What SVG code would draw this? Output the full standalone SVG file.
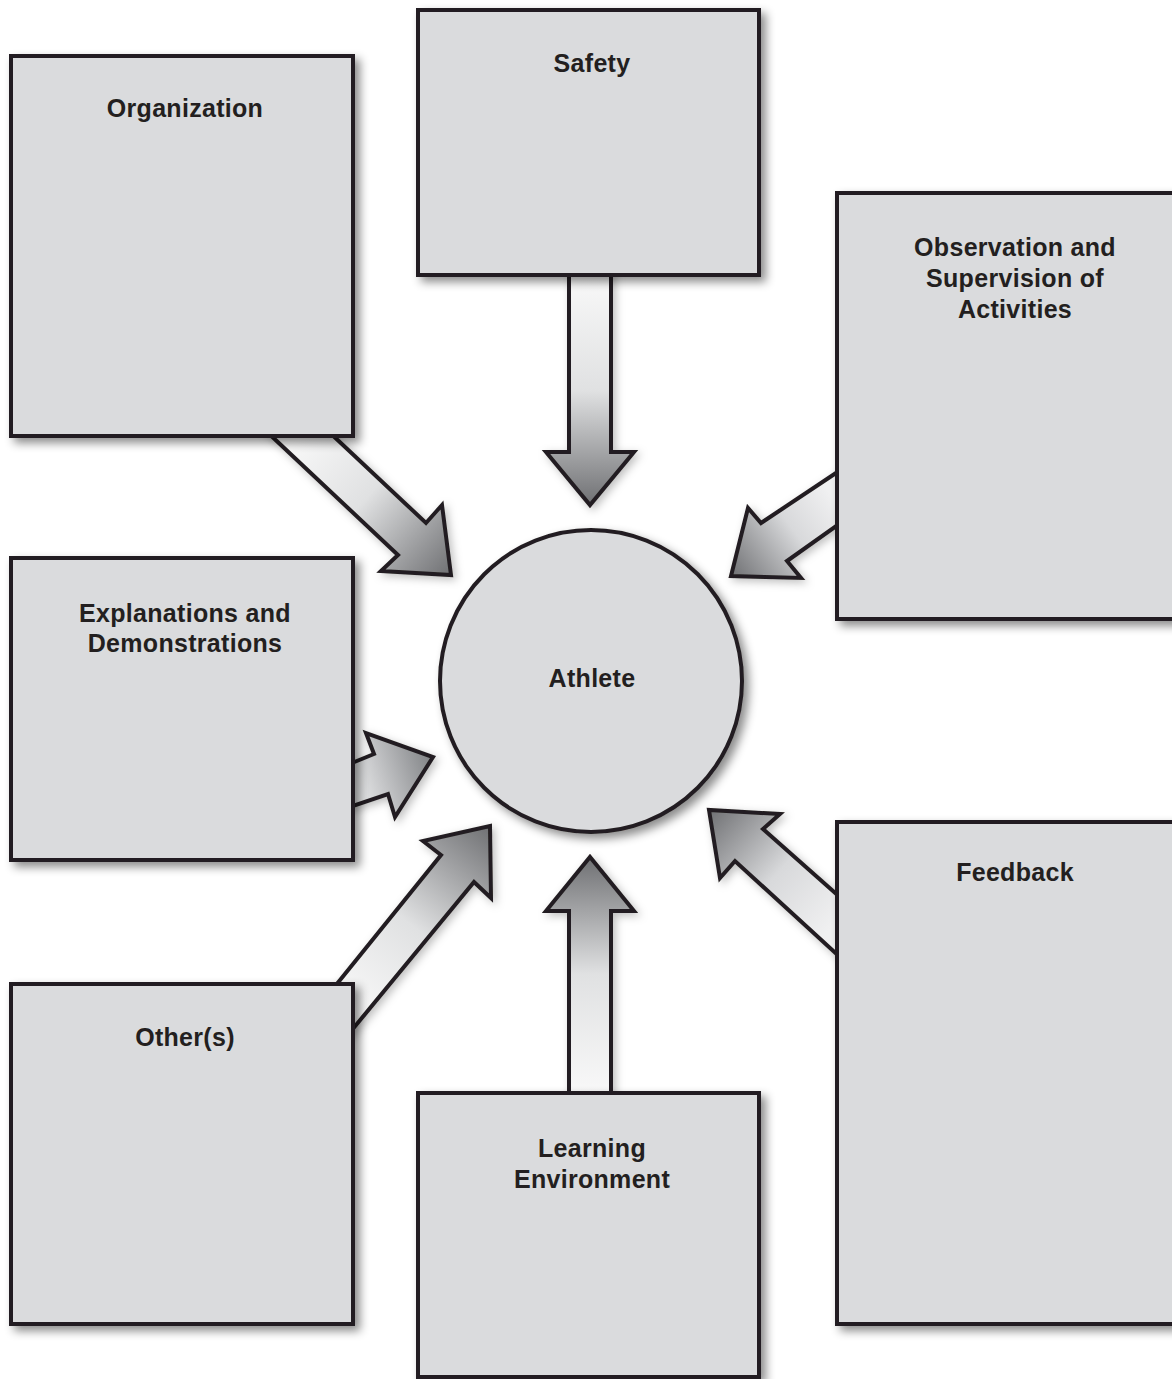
<svg xmlns="http://www.w3.org/2000/svg" width="1172" height="1379" viewBox="0 0 1172 1379">
<style>
.box{fill:#dadbdd;stroke:#231f20;stroke-width:4;filter:url(#sh)}
.arr{stroke:#231f20;stroke-width:4;stroke-linejoin:miter;stroke-miterlimit:10;filter:url(#sh2)}
.lbl{font-family:"Liberation Sans",Arial,sans-serif;font-weight:bold;font-size:25px;letter-spacing:0.3px;fill:#231f20;text-anchor:middle}
</style>
<defs>
<filter id="sh" x="-10%" y="-10%" width="125%" height="125%">
<feDropShadow dx="5" dy="5" stdDeviation="5" flood-color="#000" flood-opacity="0.45"/>
</filter>
<filter id="sh2" x="-20%" y="-20%" width="140%" height="140%">
<feDropShadow dx="3" dy="3" stdDeviation="4" flood-color="#000" flood-opacity="0.25"/>
</filter>
<linearGradient id="gS" gradientUnits="userSpaceOnUse" x1="590" y1="277" x2="590" y2="505"><stop offset="0" stop-color="#f8f8f8"/><stop offset="0.5" stop-color="#e0e1e2"/><stop offset="1" stop-color="#6f7073"/></linearGradient>
<linearGradient id="gL" gradientUnits="userSpaceOnUse" x1="590" y1="1091" x2="590" y2="857"><stop offset="0" stop-color="#f8f8f8"/><stop offset="0.5" stop-color="#e0e1e2"/><stop offset="1" stop-color="#6f7073"/></linearGradient>
<linearGradient id="gO" gradientUnits="userSpaceOnUse" x1="296" y1="437" x2="451" y2="575"><stop offset="0" stop-color="#f8f8f8"/><stop offset="0.45" stop-color="#e0e1e2"/><stop offset="1" stop-color="#6f7073"/></linearGradient>
<linearGradient id="gB" gradientUnits="userSpaceOnUse" x1="835" y1="500" x2="731" y2="576"><stop offset="0" stop-color="#f0f0f1"/><stop offset="0.4" stop-color="#d8d9db"/><stop offset="1" stop-color="#6f7073"/></linearGradient>
<linearGradient id="gE" gradientUnits="userSpaceOnUse" x1="354" y1="783" x2="433" y2="757"><stop offset="0" stop-color="#e6e7e8"/><stop offset="0.3" stop-color="#c8c9cb"/><stop offset="1" stop-color="#808285"/></linearGradient>
<linearGradient id="gT" gradientUnits="userSpaceOnUse" x1="346" y1="1005" x2="490" y2="826"><stop offset="0" stop-color="#f8f8f8"/><stop offset="0.45" stop-color="#e0e1e2"/><stop offset="1" stop-color="#6f7073"/></linearGradient>
<linearGradient id="gF" gradientUnits="userSpaceOnUse" x1="835" y1="923" x2="709" y2="810"><stop offset="0" stop-color="#f0f0f1"/><stop offset="0.45" stop-color="#d8d9db"/><stop offset="1" stop-color="#6f7073"/></linearGradient>
</defs>
<g id="connectors">
<polygon class="arr" fill="url(#gS)" points="569,270 569,452 546,452 590,505 634,452 611,452 611,270"/>
<polygon class="arr" fill="url(#gL)" points="569,1098 569,911 546,911 590,857 634,911 611,911 611,1098"/>
<polygon class="arr" fill="url(#gO)" points="265,430 398,555 381,571 451,575 442,505 426,523 327,430"/>
<polygon class="arr" fill="url(#gB)" points="842,469 761,523 748,508 731,576 801,578 787,561 842,522"/>
<polygon class="arr" fill="url(#gE)" points="347,765 374,754 366,733 433,757 395,817 388,794 347,808"/>
<polygon class="arr" fill="url(#gT)" points="332,990 441,855 423,841 490,826 491,898 474,882 347,1036"/>
<polygon class="arr" fill="url(#gF)" points="842,899 763,829 780,814 709,810 720,878 735,861 842,959"/>
</g>
<g id="organization"><rect class="box" x="11" y="56" width="342" height="380"/><text class="lbl" x="185" y="117">Organization</text></g>
<g id="safety"><rect class="box" x="418" y="10" width="341" height="265"/><text class="lbl" x="592" y="72">Safety</text></g>
<g id="observation"><rect class="box" x="837" y="193" width="345" height="426"/><text class="lbl" x="1015" y="256">Observation and</text><text class="lbl" x="1015" y="287">Supervision of</text><text class="lbl" x="1015" y="318">Activities</text></g>
<g id="explanations"><rect class="box" x="11" y="558" width="342" height="302"/><text class="lbl" x="185" y="622">Explanations and</text><text class="lbl" x="185" y="652">Demonstrations</text></g>
<g id="athlete"><circle class="box" cx="591" cy="681" r="151"/><text class="lbl" x="592" y="687">Athlete</text></g>
<g id="feedback"><rect class="box" x="837" y="822" width="345" height="502"/><text class="lbl" x="1015" y="881">Feedback</text></g>
<g id="others"><rect class="box" x="11" y="984" width="342" height="340"/><text class="lbl" x="185" y="1046">Other(s)</text></g>
<g id="learning"><rect class="box" x="418" y="1093" width="341" height="284"/><text class="lbl" x="592" y="1157">Learning</text><text class="lbl" x="592" y="1188">Environment</text></g>
</svg>
